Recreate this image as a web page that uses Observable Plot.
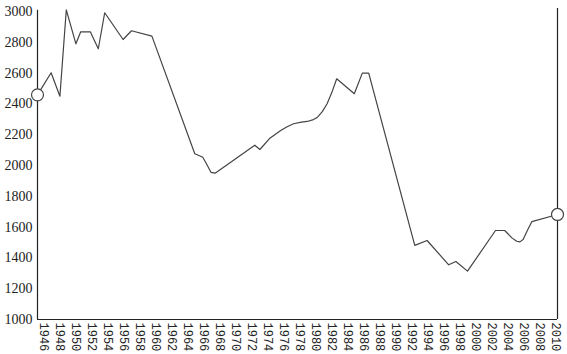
<!DOCTYPE html>
<html>
<head>
<meta charset="utf-8">
<script src="https://cdn.jsdelivr.net/npm/d3@7"></script>
<script src="https://cdn.jsdelivr.net/npm/@observablehq/plot@0.6"></script>
<style>
  html, body { margin: 0; padding: 0; background: #fff; }
</style>
</head>
<body>
<div id="chart"></div>
<script>
// Data (fractional years)
const years = [1946.0, 1947.7, 1948.8, 1949.6, 1950.8, 1951.4, 1952.6, 1953.6, 1954.4, 1956.7,
  1957.75, 1960.3, 1965.66, 1966.66, 1967.1, 1967.7, 1968.2, 1973.16, 1973.8, 1975.0, 1976.4,
  1977.2, 1978.0, 1979.0, 1979.7, 1980.5, 1981.0, 1981.6, 1982.2, 1982.8, 1983.4,
  1985.6, 1986.6, 1987.4, 1993.16, 1994.7, 1997.4, 1998.3, 1999.75, 2003.25, 2004.4,
  2005.3, 2005.9, 2006.3, 2006.7, 2007.2, 2007.8, 2011.0];
const values = [2459, 2602, 2450, 3011, 2790, 2868, 2868, 2758, 2992, 2818,
  2875, 2840, 2076, 2054, 2013, 1955, 1950, 2132, 2104, 2175, 2227,
  2252, 2271, 2282, 2286, 2298, 2314, 2350, 2401, 2475, 2563,
  2466, 2600, 2600, 1481, 1513, 1355, 1377, 1314, 1578, 1578,
  1530, 1508, 1504, 1520, 1575, 1636, 1682];
const xTicks = d3.range(1946, 2011, 2);
const yTicks = d3.range(1000, 3001, 200);
const xDomain = [1946, 2011];
const yDomain = [1000, 3000];

const data = years.map((x, i) => ({x, y: values[i]}));
const ends = [data[0], data[data.length - 1]];

const chart = Plot.plot({
  width: 567,
  height: 354,
  marginLeft: 37,
  marginRight: 10,
  marginTop: 11,
  marginBottom: 35,
  x: {domain: xDomain, range: [37, 557]},
  y: {domain: yDomain},
  marks: [
    Plot.ruleX([xDomain[0]], {stroke: "#222", strokeWidth: 1.2, y1: yDomain[0], y2: 3008}),
    Plot.ruleX([xDomain[1]], {stroke: "#222", strokeWidth: 1.2, y1: yDomain[0], y2: 3020}),
    Plot.ruleY([yDomain[0]], {stroke: "#222", strokeWidth: 1.2}),
    Plot.axisY({ticks: yTicks, tickFormat: d => String(d), tickSize: 0, tickPadding: 5, fontSize: 14,
      fontFamily: "Liberation Serif", fill: "#222", label: null}),
    Plot.axisX({ticks: xTicks, tickFormat: d => String(d), tickSize: 0, tickPadding: 3,
      tickRotate: 90, fontSize: 12, fontFamily: "Liberation Mono", fill: "#222", label: null, dx: 6}),
    Plot.line(data, {x: "x", y: "y", stroke: "#444", strokeWidth: 1.2}),
    Plot.dot(ends, {x: "x", y: "y", r: 6, fill: "white", stroke: "#444", strokeWidth: 1.2})
  ]
});
document.getElementById("chart").appendChild(chart);
</script>
</body>
</html>
